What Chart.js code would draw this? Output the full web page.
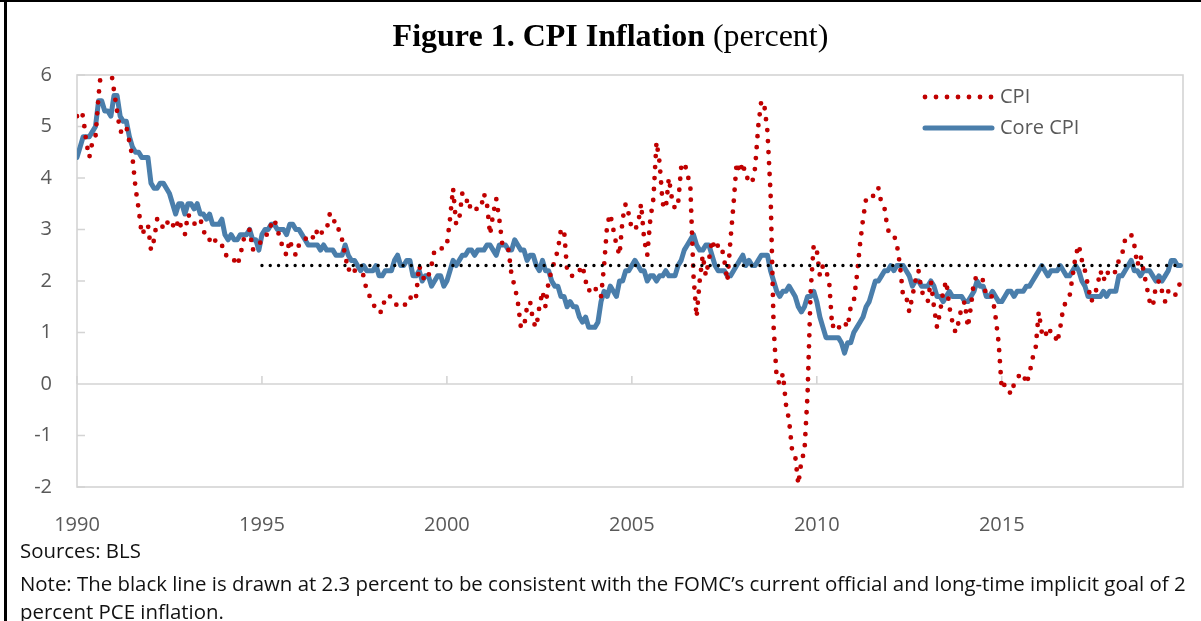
<!DOCTYPE html>
<html>
<head>
<meta charset="utf-8">
<script src="https://cdn.jsdelivr.net/npm/chart.js@4.4.1/dist/chart.umd.min.js"></script>
<style>
	body { margin: 0; background: #fff; }
	#frame { position: relative; width: 1201px; height: 621px; overflow: hidden; background: #fff; }
	.edge-top { position: absolute; left: 0; top: 0; width: 1201px; height: 2px; background: #000; }
	.edge-left { position: absolute; left: 4px; top: 0; width: 3px; height: 621px; background: #000; }
	#title {
		position: absolute; left: 10px; width: 1201px; top: 19px; text-align: center;
		font-family: 'Liberation Serif', 'Times New Roman', serif; font-size: 32px; color: #000; line-height: 1;
	}
	.note {
		position: absolute; left: 20px; font-family: 'Open Sans', sans-serif; font-size: 20.4px;
		color: #111; white-space: nowrap; line-height: 1;
	}
	canvas { position: absolute; left: 0; top: 0; }
</style>
</head>
<body>
<div id="frame">
	<canvas id="chart" width="1201" height="621"></canvas>
	<div class="edge-top"></div>
	<div class="edge-left"></div>
	<div id="title"><b>Figure 1. CPI Inflation</b> (percent)</div>
	<div class="note" style="top: 540px">Sources: BLS</div>
	<div class="note" style="top: 573px">Note: The black line is drawn at 2.3 percent to be consistent with the FOMC’s current official and long-time implicit goal of 2</div>
	<div class="note" style="top: 601px">percent PCE inflation.</div>
</div>
<script>
// monthly year-over-year % change, Jan 1990 .. Nov 2019
const cpi = [
	5.2, 5.3, 5.2, 4.7, 4.4, 4.7, 4.8, 5.6, 6.2, 6.3, 6.3, 6.1, // 1990
	5.7, 5.3, 4.9, 4.9, 5.0, 4.7, 4.4, 3.8, 3.4, 2.9, 3.0, 3.1, // 1991
	2.6, 2.8, 3.2, 3.2, 3.0, 3.1, 3.2, 3.1, 3.0, 3.2, 3.0, 2.9, // 1992
	3.3, 3.2, 3.1, 3.2, 3.2, 3.0, 2.8, 2.8, 2.7, 2.8, 2.7, 2.7, // 1993
	2.5, 2.5, 2.5, 2.4, 2.3, 2.5, 2.8, 2.9, 3.0, 2.6, 2.7, 2.7, // 1994
	2.8, 2.9, 2.9, 3.1, 3.2, 3.0, 2.8, 2.6, 2.5, 2.8, 2.6, 2.5, // 1995
	2.7, 2.7, 2.8, 2.9, 2.9, 2.8, 3.0, 2.9, 3.0, 3.0, 3.3, 3.3, // 1996
	3.0, 3.0, 2.8, 2.5, 2.2, 2.3, 2.2, 2.2, 2.2, 2.1, 1.8, 1.7, // 1997
	1.6, 1.4, 1.4, 1.4, 1.7, 1.7, 1.7, 1.6, 1.5, 1.5, 1.5, 1.6, // 1998
	1.7, 1.6, 1.7, 2.3, 2.1, 2.0, 2.1, 2.3, 2.6, 2.6, 2.6, 2.7, // 1999
	2.7, 3.2, 3.8, 3.1, 3.2, 3.7, 3.7, 3.4, 3.5, 3.4, 3.4, 3.4, // 2000
	3.7, 3.5, 2.9, 3.3, 3.6, 3.2, 2.7, 2.7, 2.6, 2.1, 1.9, 1.6, // 2001
	1.1, 1.1, 1.5, 1.6, 1.2, 1.1, 1.5, 1.8, 1.5, 2.0, 2.2, 2.4, // 2002
	2.6, 3.0, 3.0, 2.2, 2.1, 2.1, 2.1, 2.2, 2.3, 2.0, 1.8, 1.9, // 2003
	1.9, 1.7, 1.7, 2.3, 3.1, 3.3, 3.0, 2.7, 2.5, 3.2, 3.5, 3.3, // 2004
	3.0, 3.0, 3.1, 3.5, 2.8, 2.5, 3.2, 3.6, 4.7, 4.3, 3.5, 3.4, // 2005
	4.0, 3.6, 3.4, 3.5, 4.2, 4.3, 4.1, 3.8, 2.1, 1.3, 2.0, 2.5, // 2006
	2.1, 2.4, 2.8, 2.6, 2.7, 2.7, 2.4, 2.0, 2.8, 3.5, 4.3, 4.1, // 2007
	4.3, 4.0, 4.0, 3.9, 4.2, 5.0, 5.5, 5.4, 4.9, 3.7, 1.1, 0.1, // 2008
	0.0, 0.2, -0.4, -0.7, -1.3, -1.4, -1.95, -1.5, -1.3, -0.2, 1.8, 2.7, // 2009
	2.6, 2.1, 2.3, 2.2, 2.0, 1.1, 1.2, 1.1, 1.1, 1.2, 1.1, 1.5, // 2010
	1.6, 2.1, 2.7, 3.2, 3.6, 3.6, 3.6, 3.8, 3.8, 3.5, 3.4, 3.0, // 2011
	2.9, 2.9, 2.7, 2.3, 1.7, 1.7, 1.4, 1.7, 2.0, 2.2, 1.8, 1.7, // 2012
	1.6, 2.0, 1.5, 1.1, 1.4, 1.8, 2.0, 1.5, 1.2, 1.0, 1.2, 1.5, // 2013
	1.6, 1.1, 1.5, 2.0, 2.1, 2.1, 2.0, 1.7, 1.7, 1.7, 1.3, 0.8, // 2014
	-0.1, 0.0, -0.1, -0.2, 0.0, 0.1, 0.2, 0.2, 0.0, 0.2, 0.5, 0.7, // 2015
	1.4, 1.0, 0.9, 1.1, 1.0, 1.0, 0.8, 1.1, 1.5, 1.6, 1.7, 2.1, // 2016
	2.5, 2.7, 2.4, 2.2, 1.9, 1.6, 1.7, 1.9, 2.2, 2.0, 2.2, 2.1, // 2017
	2.1, 2.2, 2.4, 2.5, 2.8, 2.9, 2.9, 2.7, 2.3, 2.5, 2.2, 1.9, // 2018
	1.6, 1.5, 1.9, 2.0, 1.8, 1.6, 1.8, 1.7, 1.7, 1.8, 2.0, // 2019
]
const coreCpi = [
	4.4, 4.6, 4.8, 4.8, 4.8, 4.9, 5.0, 5.5, 5.5, 5.3, 5.3, 5.2, // 1990
	5.6, 5.6, 5.2, 5.1, 5.1, 4.8, 4.6, 4.5, 4.5, 4.4, 4.4, 4.4, // 1991
	3.9, 3.8, 3.8, 3.9, 3.9, 3.8, 3.7, 3.5, 3.3, 3.5, 3.5, 3.3, // 1992
	3.5, 3.5, 3.4, 3.5, 3.3, 3.3, 3.2, 3.3, 3.1, 3.1, 3.1, 3.2, // 1993
	2.9, 2.8, 2.9, 2.8, 2.8, 2.9, 2.9, 2.9, 3.0, 2.8, 2.8, 2.6, // 1994
	2.9, 3.0, 3.0, 3.1, 3.1, 3.0, 3.0, 3.0, 2.9, 3.1, 3.1, 3.0, // 1995
	3.0, 2.9, 2.8, 2.7, 2.7, 2.7, 2.7, 2.6, 2.7, 2.6, 2.6, 2.6, // 1996
	2.5, 2.5, 2.5, 2.7, 2.5, 2.4, 2.4, 2.3, 2.2, 2.3, 2.2, 2.2, // 1997
	2.2, 2.3, 2.1, 2.1, 2.2, 2.2, 2.2, 2.4, 2.5, 2.3, 2.3, 2.4, // 1998
	2.4, 2.1, 2.1, 2.2, 2.0, 2.1, 2.1, 1.9, 2.0, 2.1, 2.1, 1.9, // 1999
	2.0, 2.2, 2.4, 2.3, 2.4, 2.5, 2.5, 2.6, 2.6, 2.5, 2.6, 2.6, // 2000
	2.6, 2.7, 2.7, 2.6, 2.5, 2.7, 2.7, 2.7, 2.6, 2.6, 2.8, 2.7, // 2001
	2.6, 2.6, 2.4, 2.5, 2.5, 2.3, 2.2, 2.4, 2.2, 2.2, 2.0, 1.9, // 2002
	1.9, 1.7, 1.7, 1.5, 1.6, 1.5, 1.5, 1.3, 1.2, 1.3, 1.1, 1.1, // 2003
	1.1, 1.2, 1.6, 1.8, 1.7, 1.9, 1.8, 1.7, 2.0, 2.0, 2.2, 2.2, // 2004
	2.3, 2.4, 2.3, 2.2, 2.2, 2.0, 2.1, 2.1, 2.0, 2.1, 2.1, 2.2, // 2005
	2.1, 2.1, 2.1, 2.3, 2.4, 2.6, 2.7, 2.8, 2.9, 2.7, 2.6, 2.6, // 2006
	2.7, 2.7, 2.5, 2.3, 2.2, 2.2, 2.2, 2.1, 2.1, 2.2, 2.3, 2.4, // 2007
	2.5, 2.3, 2.4, 2.3, 2.3, 2.4, 2.5, 2.5, 2.5, 2.2, 2.0, 1.8, // 2008
	1.7, 1.8, 1.8, 1.9, 1.8, 1.7, 1.5, 1.4, 1.5, 1.7, 1.7, 1.8, // 2009
	1.6, 1.3, 1.1, 0.9, 0.9, 0.9, 0.9, 0.9, 0.8, 0.6, 0.8, 0.8, // 2010
	1.0, 1.1, 1.2, 1.3, 1.5, 1.6, 1.8, 2.0, 2.0, 2.1, 2.2, 2.2, // 2011
	2.3, 2.2, 2.3, 2.3, 2.3, 2.2, 2.1, 1.9, 2.0, 2.0, 1.9, 1.9, // 2012
	1.9, 2.0, 1.9, 1.7, 1.7, 1.6, 1.7, 1.8, 1.7, 1.7, 1.7, 1.7, // 2013
	1.6, 1.6, 1.7, 1.8, 2.0, 1.9, 1.9, 1.7, 1.7, 1.8, 1.7, 1.6, // 2014
	1.6, 1.7, 1.8, 1.8, 1.7, 1.8, 1.8, 1.8, 1.9, 1.9, 2.0, 2.1, // 2015
	2.2, 2.3, 2.2, 2.1, 2.2, 2.2, 2.2, 2.3, 2.2, 2.1, 2.1, 2.2, // 2016
	2.3, 2.2, 2.0, 1.9, 1.7, 1.7, 1.7, 1.7, 1.7, 1.8, 1.7, 1.8, // 2017
	1.8, 1.8, 2.1, 2.1, 2.2, 2.3, 2.4, 2.2, 2.2, 2.1, 2.2, 2.2, // 2018
	2.2, 2.1, 2.0, 2.1, 2.0, 2.1, 2.2, 2.4, 2.4, 2.3, 2.3, // 2019
]
const startYear = 1990
const seriesNames = ['CPI', 'Core CPI']
const targetRate = 2.3
const targetFrom = 1995
const xTicks = [1990, 1995, 2000, 2005, 2010, 2015]
const yTicks = [-2, -1, 0, 1, 2, 3, 4, 5, 6]

const toPoints = (values) => values.map((v, i) => ({ x: startYear + i / 12, y: v }))
const lastX = startYear + (cpi.length - 1) / 12

const axisColor = '#d4d4d4'
const labelColor = '#595959'
const labelFont = { family: "'Open Sans', sans-serif", size: 20 }

const plotFrame = {
	id: 'plotFrame',
	beforeDatasetsDraw(chart) {
		const { ctx, chartArea: a, scales } = chart
		const y0 = scales.y.getPixelForValue(0)
		ctx.save()
		ctx.strokeStyle = axisColor
		ctx.lineWidth = 1.6
		ctx.strokeRect(a.left, a.top, a.right - a.left, a.bottom - a.top)
		ctx.beginPath()
		ctx.moveTo(a.left, y0)
		ctx.lineTo(a.right, y0)
		yTicks.forEach((v) => {
			const py = scales.y.getPixelForValue(v)
			ctx.moveTo(a.left, py)
			ctx.lineTo(a.left + 8, py)
		})
		xTicks.forEach((v) => {
			const px = scales.x.getPixelForValue(v)
			ctx.moveTo(px, y0)
			ctx.lineTo(px, y0 - 8)
		})
		ctx.stroke()
		ctx.restore()
	},
}

const cornerLegend = {
	id: 'cornerLegend',
	afterDraw(chart) {
		const { ctx } = chart
		const rows = chart.data.datasets.filter((ds) => seriesNames.includes(ds.label))
		ctx.save()
		rows.forEach((ds, i) => {
			const ly = 97 + i * 31
			ctx.beginPath()
			ctx.strokeStyle = ds.borderColor
			ctx.lineWidth = ds.borderWidth
			ctx.lineCap = ds.borderCapStyle || 'butt'
			ctx.setLineDash(ds.borderDash || [])
			ctx.moveTo(925, ly)
			ctx.lineTo(992, ly)
			ctx.stroke()
			ctx.setLineDash([])
			ctx.fillStyle = labelColor
			ctx.font = `20px ${labelFont.family}`
			ctx.textBaseline = 'middle'
			ctx.fillText(ds.label, 1000, ly)
		})
		ctx.restore()
	},
}

new Chart(document.getElementById('chart'), {
	type: 'line',
	data: {
		datasets: [
			{
				label: '',
				data: [
					{ x: targetFrom, y: targetRate },
					{ x: lastX, y: targetRate },
				],
				borderColor: '#000',
				borderWidth: 3.4,
				borderDash: [0, 8.3],
				borderCapStyle: 'round',
				pointRadius: 0,
			},
			{
				label: seriesNames[0],
				data: toPoints(cpi),
				borderColor: '#c00000',
				borderWidth: 4.8,
				borderDash: [0, 11],
				borderCapStyle: 'round',
				borderJoinStyle: 'round',
				pointRadius: 0,
				tension: 0,
			},
			{
				label: seriesNames[1],
				data: toPoints(coreCpi),
				borderColor: '#4a7eab',
				borderWidth: 5,
				borderCapStyle: 'round',
				borderJoinStyle: 'round',
				pointRadius: 0,
				tension: 0,
			},
		],
	},
	options: {
		responsive: false,
		animation: false,
		devicePixelRatio: 1,
		layout: { padding: { left: 0, top: 75, right: 18, bottom: 0 } },
		plugins: { legend: { display: false }, tooltip: { enabled: false } },
		scales: {
			x: {
				type: 'linear',
				min: startYear,
				max: 2019.9,
				afterBuildTicks: (scale) => {
					scale.ticks = xTicks.map((v) => ({ value: v }))
				},
				afterFit: (scale) => {
					scale.height = 134
				},
				grid: { display: false },
				border: { display: false },
				ticks: {
					color: labelColor,
					font: labelFont,
					padding: 18,
					maxRotation: 0,
					autoSkip: false,
					callback: (v) => String(v),
				},
			},
			y: {
				min: -2,
				max: 6,
				afterFit: (scale) => {
					scale.width = 77
				},
				grid: { display: false },
				border: { display: false },
				ticks: { stepSize: 1, color: labelColor, font: labelFont, padding: 17 },
			},
		},
	},
	plugins: [plotFrame, cornerLegend],
})
</script>
</body>
</html>
